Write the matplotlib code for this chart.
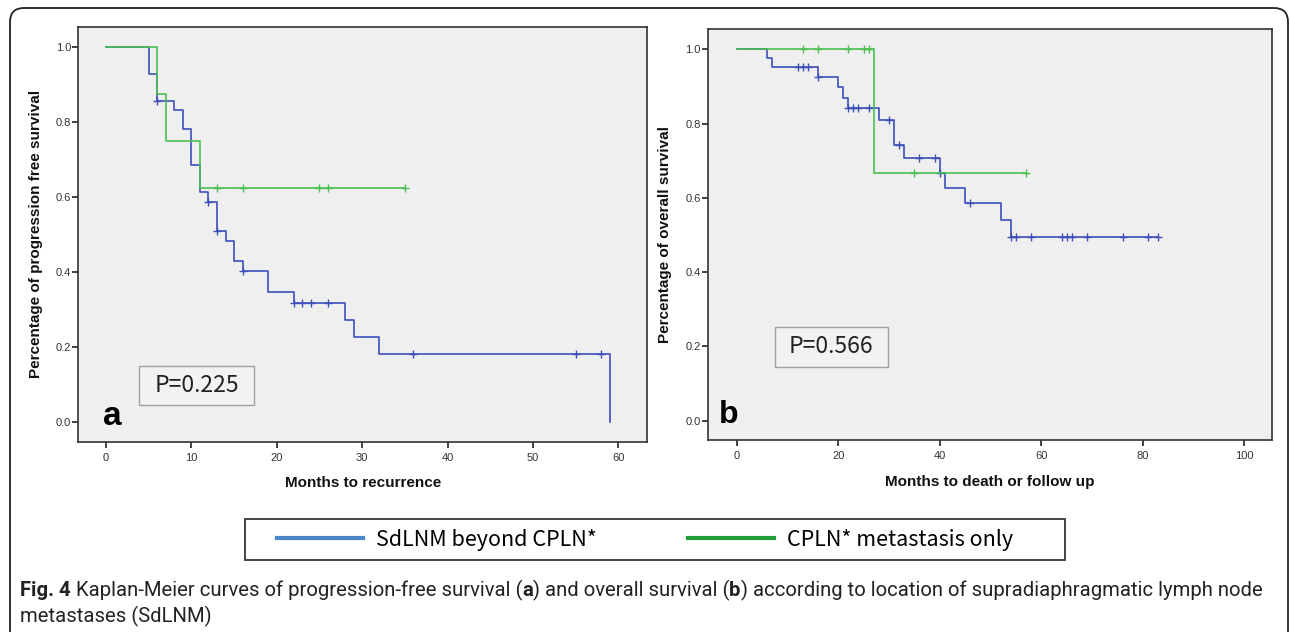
import numpy as np
import matplotlib
matplotlib.use('Agg')
import matplotlib.pyplot as plt
from matplotlib.patches import FancyBboxPatch, Rectangle
from matplotlib.lines import Line2D

#Dane - panel a (progression free survival)---------------------------------------------------------------------------
a_blue_t = [0, 5, 6, 8, 9, 10, 11, 12, 13, 14, 15, 16, 19, 22, 28, 29, 32, 59]
a_blue_s = [1.0, 0.929, 0.857, 0.832, 0.783, 0.686, 0.613, 0.588, 0.510, 0.483, 0.429, 0.402, 0.347, 0.316,
            0.272, 0.227, 0.182, 0.0]
a_blue_cens = [6, 12, 13, 16, 22, 23, 24, 26, 36, 55, 58]
a_blue_end = 59

a_green_t = [0, 6, 7, 11]
a_green_s = [1.0, 0.875, 0.75, 0.625]
a_green_cens = [13, 16, 25, 26, 35]
a_green_end = 35

#Dane - panel b (overall survival)-------------------------------------------------------------------------------------
b_blue_t = [0, 6, 7, 16, 20, 21, 22, 28, 31, 33, 40, 41, 45, 52, 54]
b_blue_s = [1.0, 0.977, 0.953, 0.926, 0.898, 0.870, 0.841, 0.810, 0.743, 0.708, 0.668, 0.627, 0.585,
            0.540, 0.494]
b_blue_cens = [12, 13, 14, 16, 22, 23, 24, 26, 30, 32, 36, 39, 40, 46, 54, 55, 58, 64, 65, 66, 69, 76, 81, 83]
b_blue_end = 83

b_green_t = [0, 27]
b_green_s = [1.0, 0.667]
b_green_cens = [13, 16, 22, 25, 26, 35, 57]
b_green_end = 57

groups = ['SdLNM beyond CPLN*', 'CPLN* metastasis only']
p_values = ['P=0.225', 'P=0.566']
y_ticks = [0.0, 0.2, 0.4, 0.6, 0.8, 1.0]

BLUE = '#3d4fb8'
GREEN = '#4cbf52'
BG = '#efefef'
KR = ['Noto Sans CJK KR', 'DejaVu Sans']

plt.rcParams['font.family'] = ['Liberation Sans', 'DejaVu Sans']

W, H = 1290, 632
fig = plt.figure(figsize=(W / 100, H / 100), dpi=100)
fig.patch.set_facecolor('white')

#ramka z zaokraglonymi rogami
frame = FancyBboxPatch((0.10, -0.3), 12.78, 6.24 + 0.3, boxstyle='round,pad=0,rounding_size=0.14',
                       transform=fig.dpi_scale_trans, fc='none', ec='#222222', lw=1.3)
fig.add_artist(frame)


def px_axes(x0, y0, x1, y1):
    return fig.add_axes([x0 / W, (H - y1) / H, (x1 - x0) / W, (y1 - y0) / H])


def km(ax, t, s, end, cens, color):
    tt = list(t) + [end]
    ss = list(s) + [s[-1]]
    ax.step(tt, ss, where='post', color=color, lw=1.2)
    cy = [s[np.searchsorted(t, c, side='right') - 1] for c in cens]
    ax.plot(cens, cy, ls='none', marker='+', ms=6, mew=1.0, color=color)


def style(ax, xlim, ylim, xt, xlabel, ylabel):
    ax.set_facecolor(BG)
    ax.set_xlim(*xlim)
    ax.set_ylim(*ylim)
    ax.set_xticks(xt)
    ax.set_yticks(y_ticks)
    ax.set_yticklabels(['%.1f' % v for v in y_ticks])
    ax.tick_params(direction='out', length=4, width=1.2, color='#222222', labelsize=8,
                   labelcolor='#333333')
    ax.tick_params(axis='y', pad=1)
    ax.tick_params(axis='x', pad=4)
    for sp in ax.spines.values():
        sp.set_color('#333333')
        sp.set_linewidth(1.2)
    ax.set_xlabel(xlabel, fontsize=11, fontweight='bold', color='#111111')
    ax.set_ylabel(ylabel, fontsize=11, fontweight='bold', color='#111111')


def p_box(ax, x0, y0, w, h, txt):
    ax.add_patch(Rectangle((x0, y0), w, h, transform=ax.transAxes, fc='#f2f2f2', ec='#a0a0a0', lw=1))
    ax.text(x0 + w / 2, y0 + h / 2, txt, transform=ax.transAxes, ha='center', va='center', fontsize=16.5,
            family=KR, color='#222222')


#panel a---------------------------------------------------------------------------------------------------------------
ax1 = px_axes(78.3, 26.7, 647.3, 441.7)
km(ax1, a_blue_t, a_blue_s, a_blue_end, a_blue_cens, BLUE)
km(ax1, a_green_t, a_green_s, a_green_end, a_green_cens, GREEN)
style(ax1, (-3.25, 63.4), (-0.053, 1.055), [0, 10, 20, 30, 40, 50, 60],
      'Months to recurrence', 'Percentage of progression free survival')
ax1.xaxis.set_label_coords(0.5, -0.082)
ax1.yaxis.set_label_coords(-0.062, 0.5)
p_box(ax1, 0.107, 0.088, 0.202, 0.094, p_values[0])
ax1.text(0.043, 0.040, 'a', transform=ax1.transAxes, fontsize=24, fontweight='bold', va='baseline')

#panel b---------------------------------------------------------------------------------------------------------------
ax2 = px_axes(707.7, 29, 1272.3, 440)
km(ax2, b_blue_t, b_blue_s, b_blue_end, b_blue_cens, BLUE)
km(ax2, b_green_t, b_green_s, b_green_end, b_green_cens, GREEN)
style(ax2, (-5.7, 105.5), (-0.052, 1.055), [0, 20, 40, 60, 80, 100],
      'Months to death or follow up', 'Percentage of overall survival')
ax2.xaxis.set_label_coords(0.5, -0.085)
ax2.yaxis.set_label_coords(-0.064, 0.5)
p_box(ax2, 0.119, 0.178, 0.200, 0.097, p_values[1])
ax2.text(0.019, 0.041, 'b', transform=ax2.transAxes, fontsize=23, fontweight='bold', va='baseline')

#legenda---------------------------------------------------------------------------------------------------------------
fig.add_artist(Rectangle((245 / W, (H - 560) / H), (1065 - 245) / W, 41 / H, transform=fig.transFigure,
                         fc='white', ec='#444444', lw=1.4))
handles = [Line2D([], [], color='#4a86c8', lw=3), Line2D([], [], color='#1f9e3a', lw=3)]
leg = fig.legend(handles, groups, loc='center', bbox_to_anchor=(645 / W, (H - 540) / H), ncol=2,
                 frameon=False, handlelength=4.0, handletextpad=0.6, columnspacing=4.2,
                 borderpad=0.2, prop={'family': KR, 'size': 15.5})

#podpis----------------------------------------------------------------------------------------------------------------
cap_font = ['Roboto', 'DejaVu Sans']
parts = [('Fig. 4', 'bold'), (' Kaplan-Meier curves of progression-free survival (', 'normal'), ('a', 'bold'),
         (') and overall survival (', 'normal'), ('b', 'bold'),
         (') according to location of supradiaphragmatic lymph node', 'normal')]
renderer = fig.canvas.get_renderer()

#najpierw mierzymy szerokosc, potem dobieramy rozmiar czcionki
cap_size = 14
total = 0
for txt, wt in parts:
    t = fig.text(0, 0, txt, fontsize=cap_size, fontweight=wt, family=cap_font)
    total += t.get_window_extent(renderer=renderer).width
    t.remove()
cap_size = cap_size * 1252 / total

x = 20 / W
y = (H - 596) / H
for txt, wt in parts:
    t = fig.text(x, y, txt, fontsize=cap_size, fontweight=wt, family=cap_font, va='baseline', color='#222222')
    x = t.get_window_extent(renderer=renderer).x1 / W
fig.text(20 / W, (H - 622) / H, 'metastases (SdLNM)', fontsize=cap_size, family=cap_font, va='baseline',
         color='#222222')

plt.savefig('out.png', dpi=100)
